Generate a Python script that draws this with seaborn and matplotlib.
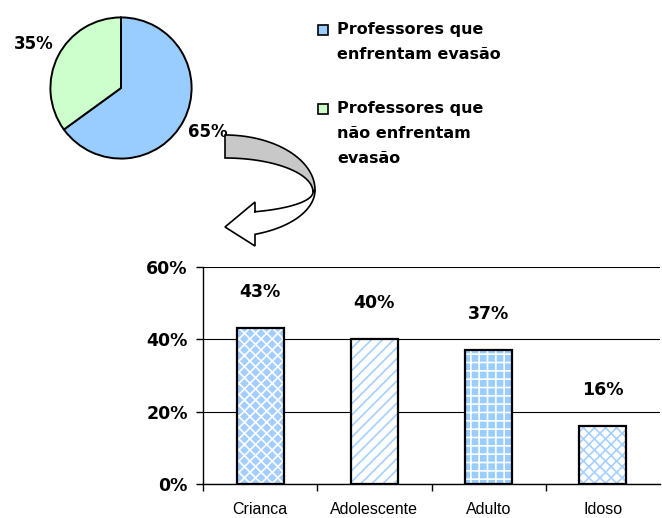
import numpy as np
import pandas as pd
import matplotlib
matplotlib.use("Agg")
import matplotlib.pyplot as plt
from matplotlib.patches import Polygon, Rectangle
import seaborn as sns

# pie data
pie_values = [65, 35]
pie_pct_labels = ["65%", "35%"]
pie_names = ["Professores que\nenfrentam evasão",
             "Professores que\nnão enfrentam\nevasão"]
pie_colors = ["#99ccff", "#ccffcc"]

# bar data
categories = ["Crianca", "Adolescente", "Adulto", "Idoso"]
percentages = [43, 40, 37, 16]
y_ticks = [0, 20, 40, 60]

sns.set_style("white")
plt.rcParams["font.family"] = ["DejaVu Sans"]
plt.rcParams["hatch.linewidth"] = 1.2
for k in ["text.color", "axes.labelcolor", "xtick.color", "ytick.color"]:
    plt.rcParams[k] = "black"

W, H = 662, 518
fig = plt.figure(figsize=(W / 100, H / 100), dpi=100)


def fx(x):
    return x / W


def fy(y):
    return 1 - y / H


# ---- pie ----
ax_pie = fig.add_axes([fx(49), fy(160), 144 / W, 144 / H])
wedges, texts = ax_pie.pie(pie_values, labels=pie_pct_labels, colors=pie_colors,
                           startangle=90, counterclock=False, labeldistance=1.38,
                           wedgeprops=dict(edgecolor="black", linewidth=1.4),
                           textprops=dict(fontsize=12, fontweight="bold"))
for t in texts:
    t.set_ha("center")
    t.set_va("center")
ax_pie.set_xlim(-1.02, 1.02)
ax_pie.set_ylim(-1.02, 1.02)

# legend drawn by hand so the key sits on the first line of each label
legend_rows = [30, 109]
for name, col, ry in zip(pie_names, pie_colors, legend_rows):
    fig.patches.append(Rectangle((fx(318), fy(ry + 5)), 10 / W, 10 / H,
                                 facecolor=col, edgecolor="black", linewidth=1.2,
                                 transform=fig.transFigure, figure=fig))
    fig.text(fx(337), fy(ry - 8), name, ha="left", va="top", fontsize=11.5,
             fontweight="bold", linespacing=1.85)


# ---- curved arrow (decoration) ----
def arc(cx, cy, rx, ry, a0, a1, n=40):
    a = np.radians(np.linspace(a0, a1, n))
    return np.column_stack([fx(cx + rx * np.cos(a)), fy(cy - ry * np.sin(a))])


band = np.vstack([arc(225, 190, 90, 55, 90, 0), arc(225, 192, 88, 34, 0, 90)])
fig.patches.append(Polygon(band, closed=True, facecolor="#c8c8c8",
                           edgecolor="black", linewidth=1.2,
                           transform=fig.transFigure, figure=fig))
head = np.array([[fx(255), fy(235)], [fx(255), fy(246)], [fx(225), fy(227)],
                 [fx(255), fy(202)], [fx(255), fy(212)]])
shaft = np.vstack([arc(225, 190, 90, 47, 0, -70.5), head,
                   arc(225, 192, 88, 21, -70.5, 0)])
fig.patches.append(Polygon(shaft, closed=True, facecolor="white",
                           edgecolor="black", linewidth=1.2,
                           transform=fig.transFigure, figure=fig))

# ---- bars ----
df = pd.DataFrame({"categoria": categories, "valor": percentages})
ax = fig.add_axes([fx(203), fy(484), (660 - 203) / W, (484 - 267) / H])
sns.barplot(data=df, x="categoria", y="valor", ax=ax, width=0.41,
            color="white", linewidth=0)
styles = [("#a3ceff", "white", "xxx"),
          ("white", "#a6d0ff", "///"),
          ("#99ccff", "white", "++"),
          ("white", "#a6d0ff", "xxx")]
for p, (face, hcol, hatch) in zip(ax.patches, styles):
    p.set_facecolor(face)
    p.set_edgecolor(hcol)
    p.set_hatch(hatch)
sns.barplot(data=df, x="categoria", y="valor", ax=ax, width=0.41,
            fill=False, edgecolor="black", linewidth=1.6)

for i, v in enumerate(percentages):
    ax.annotate(f"{v}%", (i, v), xytext=(0, 26), textcoords="offset points",
                ha="center", va="center", fontsize=12.5, fontweight="bold")

ax.set_ylim(0, 60)
ax.set_xlim(-0.5, 3.5)
ax.set_yticks(y_ticks)
ax.set_yticklabels([f"{t}%" for t in y_ticks], fontsize=12.5, fontweight="bold")
ax.set_xticks(range(len(categories)))
ax.set_xticklabels(categories, family="Liberation Sans", fontsize=11.5)
ax.set_xticks([-0.5, 0.5, 1.5, 2.5], minor=True)
ax.tick_params(axis="x", which="major", length=0, pad=13)
ax.tick_params(axis="x", which="minor", length=5, width=1, color="black",
               direction="out", bottom=True)
ax.tick_params(axis="y", length=5, width=1, color="black", direction="out",
               left=True, pad=6)
ax.set_xlabel("")
ax.set_ylabel("")
ax.grid(axis="y", color="black", linewidth=0.8)
ax.set_axisbelow(True)
for s in ["top", "right"]:
    ax.spines[s].set_visible(False)
for s in ["left", "bottom"]:
    ax.spines[s].set_color("black")
    ax.spines[s].set_linewidth(1)

fig.savefig("out.png", dpi=100)
